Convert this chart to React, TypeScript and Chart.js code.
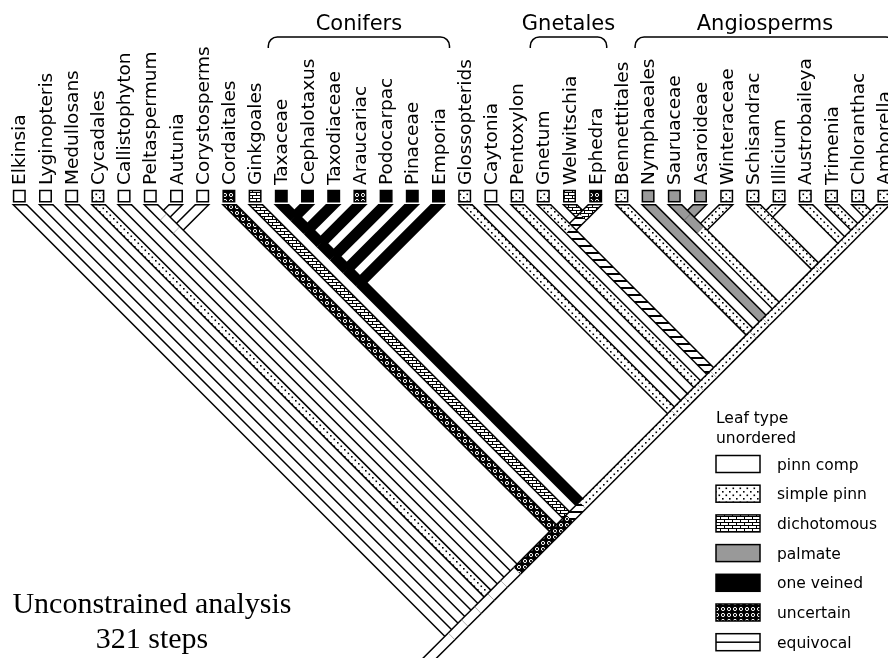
import React, { useEffect, useRef } from 'react';
import { Chart, registerables } from 'chart.js';

Chart.register(...registerables);

// ---------- data ----------
const TAXA = [
  'Elkinsia', 'Lyginopteris', 'Medullosans', 'Cycadales', 'Callistophyton', 'Peltaspermum',
  'Autunia', 'Corystosperms', 'Cordaitales', 'Ginkgoales', 'Taxaceae', 'Cephalotaxus',
  'Taxodiaceae', 'Araucariac', 'Podocarpac', 'Pinaceae', 'Emporia', 'Glossopterids',
  'Caytonia', 'Pentoxylon', 'Gnetum', 'Welwitschia', 'Ephedra', 'Bennettitales',
  'Nymphaeales', 'Sauruaceae', 'Asaroideae', 'Winteraceae', 'Schisandrac', 'Illicium',
  'Austrobaileya', 'Trimenia', 'Chloranthac', 'Amborella',
];
// leaf-type state shown in each terminal box
const TIP_STATES = [
  'P', 'P', 'P', 'S', 'P', 'P', 'P', 'P', 'U', 'D', 'B', 'B', 'B', 'U', 'B', 'B', 'B', 'S',
  'P', 'S', 'S', 'D', 'U', 'S', 'G', 'G', 'G', 'S', 'S', 'S', 'S', 'S', 'S', 'S',
];
// state reconstructed on each terminal branch
const TIP_BRANCH_STATES = [
  'P', 'P', 'P', 'S', 'P', 'P', 'P', 'P', 'U', 'D', 'B', 'B', 'B', 'B', 'B', 'B', 'B', 'S',
  'P', 'S', 'S', 'D', 'D', 'S', 'G', 'G', 'G', 'S', 'S', 'S', 'S', 'S', 'S', 'S',
];
// internal clades (first tip, last tip) and the state on the branch below each
const CLADE_FIRST = [5, 5, 10, 10, 10, 10, 10, 10, 21, 20, 25, 25, 28, 32, 31, 30, 28, 25, 24, 23, 20, 19, 18, 17, 10, 9, 8, 5, 4, 3, 2, 1, 0];
const CLADE_LAST = [6, 7, 11, 12, 13, 14, 15, 16, 22, 22, 26, 27, 29, 33, 33, 33, 33, 33, 33, 33, 33, 33, 33, 33, 33, 33, 33, 33, 33, 33, 33, 33, 33];
const CLADE_STATES = ['P', 'P', 'B', 'B', 'B', 'B', 'B', 'B', 'E', 'E', 'G', 'S', 'S', 'S', 'S', 'S', 'S', 'S', 'S', 'S', 'S', 'S', 'S', 'S', 'E', 'U', 'U', 'P', 'P', 'P', 'P', 'P', 'P'];

const GROUP_NAMES = ['Conifers', 'Gnetales', 'Angiosperms'];
const GROUP_FIRST = [10, 20, 24];
const GROUP_LAST = [16, 22, 33];

const LEGEND_TITLE = ['Leaf type', 'unordered'];
const LEGEND_LABELS = ['pinn comp', 'simple pinn', 'dichotomous', 'palmate', 'one veined', 'uncertain', 'equivocal'];
const LEGEND_STATES = ['P', 'S', 'D', 'G', 'B', 'U', 'E'];

const NOTE_LINES = ['Unconstrained analysis', '321 steps'];

// ---------- layout ----------
const W = 888;
const H = 658;
const UNIT_PX = 26.2;
const FIRST_TIP_PX = 19.3;
const TIP_TOP_PX = 204;
const X_MIN = -FIRST_TIP_PX / UNIT_PX;
const X_MAX = X_MIN + W / UNIT_PX;
const Y_MIN = -TIP_TOP_PX / UNIT_PX;
const Y_MAX = Y_MIN + H / UNIT_PX;
const BOX_DEPTH = -0.3;
const ROOT_STEM = 1;
const OUTER_W = 11;
const INNER_W = 8;
const LINE = 1.5;

function makeFill(state: string): string | CanvasPattern {
  if (state === 'P') return '#ffffff';
  if (state === 'B') return '#000000';
  if (state === 'G') return '#999999';
  const c = document.createElement('canvas');
  const g = c.getContext('2d') as CanvasRenderingContext2D;
  if (state === 'S') {
    c.width = 7; c.height = 7;
    g.fillStyle = '#fff'; g.fillRect(0, 0, 7, 7);
    g.fillStyle = '#000'; g.fillRect(1, 1, 1.6, 1.6); g.fillRect(4.5, 4.5, 1.6, 1.6);
  } else if (state === 'D') {
    c.width = 8; c.height = 6;
    g.fillStyle = '#fff'; g.fillRect(0, 0, 8, 6);
    g.fillStyle = '#000';
    g.fillRect(0, 0, 8, 1); g.fillRect(0, 3, 8, 1);
    g.fillRect(0, 0, 1, 3); g.fillRect(4, 3, 1, 3);
  } else if (state === 'U') {
    c.width = 6; c.height = 6;
    g.fillStyle = '#000'; g.fillRect(0, 0, 6, 6);
    g.strokeStyle = '#fff'; g.lineWidth = 1;
    g.beginPath(); g.arc(3, 3, 1.6, 0, Math.PI * 2); g.stroke();
  } else if (state === 'E') {
    c.width = 6; c.height = 7;
    g.fillStyle = '#fff'; g.fillRect(0, 0, 6, 7);
    g.fillStyle = '#000'; g.fillRect(0, 0, 6, 2);
  }
  return g.createPattern(c, 'repeat') as CanvasPattern;
}

type Node = { a: number; b: number; state: string; kids?: [Node, Node] };

function buildTree(): Node {
  const map = new Map<string, Node>();
  TAXA.forEach((_, i) => map.set(`${i}-${i}`, { a: i, b: i, state: TIP_BRANCH_STATES[i] }));
  CLADE_FIRST.forEach((a, k) => map.set(`${a}-${CLADE_LAST[k]}`, { a, b: CLADE_LAST[k], state: CLADE_STATES[k] }));
  map.forEach((n) => {
    if (n.a === n.b) return;
    for (let c = n.b - 1; c >= n.a; c--) {
      const l = map.get(`${n.a}-${c}`);
      const r = map.get(`${c + 1}-${n.b}`);
      if (l && r) { n.kids = [l, r]; break; }
    }
  });
  return map.get(`0-${TAXA.length - 1}`) as Node;
}

const px = (n: Node) => (n.a + n.b) / 2;
const depth = (n: Node) => (n.b - n.a) / 2;

export default function App() {
  const ref = useRef<HTMLCanvasElement>(null);

  useEffect(() => {
    document.body.style.margin = '0';
    const canvas = ref.current;
    if (!canvas) return;
    const fills: Record<string, string | CanvasPattern> = {};
    ['P', 'S', 'D', 'G', 'B', 'U', 'E'].forEach((s) => { fills[s] = makeFill(s); });

    const root = buildTree();
    const segs: { from: { x: number; y: number }; to: { x: number; y: number }; state: string }[] = [];

    const visit = (n: Node, parent: Node | null, dir: number) => {
      if (n.kids) {
        const [l, r] = n.kids;
        if (dir > 0) { visit(r, n, -1); visit(l, n, 1); } else { visit(l, n, 1); visit(r, n, -1); }
      }
      let from = { x: px(n), y: depth(n) };
      let to: { x: number; y: number };
      if (parent) {
        to = { x: px(parent), y: depth(parent) };
        if (!n.kids) from = { x: from.x - dir * 0.6, y: -0.6 };
      } else {
        to = { x: from.x - ROOT_STEM, y: from.y + ROOT_STEM };
      }
      segs.push({ from, to, state: n.state });
    };
    visit(root, null, -1);

    const datasets: any[] = [];
    segs.forEach((s) => {
      datasets.push({
        data: [s.from, s.to], showLine: true, borderColor: '#000', borderWidth: OUTER_W,
        borderCapStyle: 'butt', pointRadius: 0, clip: { left: 0, right: 0, top: -TIP_TOP_PX, bottom: 0 },
      });
      datasets.push({
        data: [s.from, s.to], showLine: true, borderColor: fills[s.state], borderWidth: INNER_W,
        borderCapStyle: 'butt', pointRadius: 0, clip: { left: 0, right: 0, top: -(TIP_TOP_PX + LINE), bottom: 0 },
      });
    });
    const total = datasets.length;
    datasets.forEach((d, i) => { d.order = total - i; });
    datasets.push({
      data: TAXA.map((_, i) => ({ x: i, y: BOX_DEPTH })),
      pointStyle: 'rect', pointRadius: 8.1, pointBorderWidth: LINE, pointBorderColor: '#000',
      pointBackgroundColor: TIP_STATES.map((s) => fills[s]), showLine: false, order: -1, clip: false,
    });

    const deco = {
      id: 'deco',
      afterDatasetsDraw(chart: any) {
        const ctx: CanvasRenderingContext2D = chart.ctx;
        const xs = chart.scales.x;
        const ys = chart.scales.y;
        ctx.save();
        ctx.fillStyle = '#000';
        ctx.strokeStyle = '#000';
        // tip labels
        ctx.font = '18.5px "DejaVu Sans"';
        ctx.textAlign = 'left';
        ctx.textBaseline = 'alphabetic';
        const labelBottom = ys.getPixelForValue(0) - 19;
        TAXA.forEach((t, i) => {
          ctx.save();
          ctx.translate(xs.getPixelForValue(i) + 6, labelBottom);
          ctx.rotate(-Math.PI / 2);
          ctx.fillText(t, 0, 0);
          ctx.restore();
        });
        // group brackets
        ctx.lineWidth = LINE;
        ctx.font = '21px "DejaVu Sans"';
        ctx.textAlign = 'center';
        GROUP_NAMES.forEach((g, k) => {
          const l = xs.getPixelForValue(GROUP_FIRST[k]) - 13;
          const r = xs.getPixelForValue(GROUP_LAST[k]) + 11;
          const top = 37, bot = 48, rad = 9;
          ctx.beginPath();
          ctx.moveTo(l, bot);
          ctx.arcTo(l, top, l + rad, top, rad);
          ctx.lineTo(r - rad, top);
          ctx.arcTo(r, top, r, bot, rad);
          ctx.lineTo(r, bot);
          ctx.stroke();
          ctx.fillText(g, (l + r) / 2, 30);
        });
        // legend
        ctx.font = '15.5px "DejaVu Sans"';
        ctx.textAlign = 'left';
        ctx.fillText(LEGEND_TITLE[0], 716, 423);
        ctx.fillText(LEGEND_TITLE[1], 716, 442.5);
        LEGEND_LABELS.forEach((lab, k) => {
          const cy = 464 + 29.7 * k;
          const st = LEGEND_STATES[k];
          ctx.fillStyle = st === 'E' ? '#fff' : (fills[st] as any);
          ctx.fillRect(716, cy - 8.5, 44, 17);
          ctx.fillStyle = '#000';
          if (st === 'E') ctx.fillRect(716, cy - 0.75, 44, 1.5);
          ctx.strokeRect(716, cy - 8.5, 44, 17);
          ctx.fillText(lab, 777, cy + 5.5);
        });
        // note
        ctx.font = '30px "Liberation Serif"';
        ctx.textAlign = 'center';
        ctx.fillText(NOTE_LINES[0], 152, 613);
        ctx.fillText(NOTE_LINES[1], 152, 648);
        ctx.restore();
      },
    };

    const chart = new Chart(canvas, {
      type: 'scatter',
      data: { datasets },
      options: {
        animation: false,
        responsive: false,
        events: [],
        layout: { padding: 0, autoPadding: false },
        plugins: { legend: { display: false }, tooltip: { enabled: false } },
        scales: {
          x: { type: 'linear', display: false, min: X_MIN, max: X_MAX },
          y: { type: 'linear', display: false, reverse: true, min: Y_MIN, max: Y_MAX },
        },
      },
      plugins: [deco],
    } as any);
    return () => chart.destroy();
  }, []);

  return (
    <div style={{ width: W, height: H, background: '#fff' }}>
      <canvas ref={ref} width={W} height={H} style={{ display: 'block', width: W, height: H }} />
    </div>
  );
}
